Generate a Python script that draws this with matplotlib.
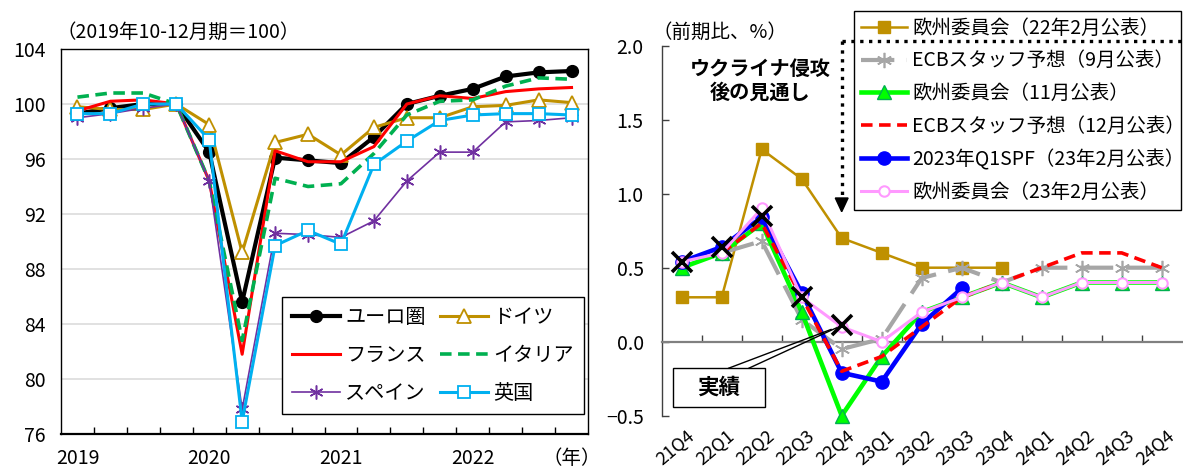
import numpy as np
import matplotlib
matplotlib.use("Agg")
import matplotlib.pyplot as plt
from matplotlib.lines import Line2D
from matplotlib.patches import Polygon, Rectangle
from matplotlib import transforms
from matplotlib.ticker import FuncFormatter

plt.rcParams["font.family"] = ["Noto Sans CJK JP", "DejaVu Sans"]

# ---------------- data: real GDP level (2019Q4 = 100) ----------------
year_labels = ["2019", "2020", "2021", "2022"]
year_positions = [0, 4, 8, 12]
n_quarters = 16

euro = [99.3, 99.7, 100.0, 100.0, 96.5, 85.6, 96.1, 95.9, 95.7, 97.6, 100.0, 100.6, 101.1, 102.0, 102.3, 102.4]
germany = [99.8, 99.6, 99.6, 100.0, 98.5, 89.2, 97.2, 97.8, 96.3, 98.3, 99.0, 99.0, 99.8, 99.9, 100.3, 100.1]
france = [99.5, 100.2, 100.3, 100.0, 94.4, 81.8, 96.6, 95.8, 95.8, 96.9, 100.0, 100.6, 100.4, 100.9, 101.1, 101.2]
italy = [100.5, 100.8, 100.8, 100.0, 94.4, 82.8, 94.6, 94.0, 94.2, 96.4, 99.2, 100.2, 100.3, 101.3, 101.9, 101.8]
spain = [99.0, 99.3, 99.7, 100.0, 94.4, 77.8, 90.6, 90.5, 90.3, 91.5, 94.4, 96.5, 96.5, 98.7, 98.8, 99.0]
uk = [99.3, 99.3, 100.0, 100.0, 97.4, 76.9, 89.7, 90.8, 89.8, 95.6, 97.3, 98.8, 99.2, 99.3, 99.3, 99.2]

# ---------------- data: euro area GDP growth forecasts (q/q, %) ----------------
forecast_quarters = ["21Q4", "22Q1", "22Q2", "22Q3", "22Q4", "23Q1", "23Q2",
                     "23Q3", "23Q4", "24Q1", "24Q2", "24Q3", "24Q4"]
ec_feb22 = [0.3, 0.3, 1.3, 1.1, 0.7, 0.6, 0.5, 0.5, 0.5, None, None, None, None]
ecb_sep22 = [None, 0.6, 0.68, 0.15, -0.05, 0.02, 0.43, 0.5, 0.4, 0.5, 0.5, 0.5, 0.5]
ec_nov22 = [0.5, 0.6, 0.8, 0.2, -0.5, -0.1, 0.2, 0.3, 0.4, 0.3, 0.4, 0.4, 0.4]
ecb_dec22 = [None, 0.6, 0.8, 0.3, -0.2, -0.1, 0.1, 0.3, 0.4, 0.5, 0.6, 0.6, 0.5]
spf_2023q1 = [0.54, 0.64, 0.84, 0.33, -0.21, -0.27, 0.12, 0.36, None, None, None, None, None]
ec_feb23 = [0.54, 0.6, 0.9, 0.3, 0.1, 0.0, 0.2, 0.3, 0.4, 0.3, 0.4, 0.4, 0.4]
actual = [0.54, 0.64, 0.85, 0.3, 0.11]

W, H = 1183, 473
fig = plt.figure(figsize=(W / 100, H / 100), dpi=100)


def fx(px):
    return px / W


def fy(py):
    return 1 - py / H


def arr(values):
    return np.array([np.nan if v is None else v for v in values], dtype=float)


# =============== left panel ===============
axL = fig.add_axes([fx(61), fy(434), fx(588) - fx(61), fy(49) - fy(434)])
x = np.arange(n_quarters)

GOLD = "#BF9000"
lineE, = axL.plot(x, euro, color="black", lw=3.0, marker="o", ms=8.5, zorder=3, label="ユーロ圏")
lineG, = axL.plot(x, germany, color=GOLD, lw=2.2, marker="^", ms=10, mfc="white", mec=GOLD,
                  mew=1.3, zorder=4, label="ドイツ")
lineF, = axL.plot(x, france, color="#FF0000", lw=2.2, zorder=5, label="フランス")
lineI, = axL.plot(x, italy, color="#00B050", lw=2.6, ls=(0, (3.2, 1.8)), zorder=5, label="イタリア")
lineS, = axL.plot(x, spain, color="#7030A0", lw=1.2, marker=(6, 2, 0), ms=10, mew=1.1,
                  zorder=6, label="スペイン")
lineU, = axL.plot(x, uk, color="#00B0F0", lw=2.2, marker="s", ms=8, mfc="white", mec="#00B0F0",
                  mew=1.3, zorder=7, label="英国", clip_on=False)

axL.set_xlim(-0.5, n_quarters - 0.5)
axL.set_ylim(76, 104)
axL.set_yticks(np.arange(76, 105, 4))
axL.tick_params(axis="y", length=0, pad=11, labelsize=14)
axL.yaxis.grid(True, color="#d9d9d9", lw=1.1)
axL.set_axisbelow(True)

axL.set_xticks(np.arange(0.5, n_quarters - 1, 1))
axL.set_xticklabels([])
axL.tick_params(axis="x", which="major", direction="in", length=5, width=1, color="black")
axL.set_xticks(year_positions + [n_quarters - 1], minor=True)
axL.set_xticklabels(year_labels + ["（年）"], minor=True)
axL.tick_params(axis="x", which="minor", length=0, pad=10, labelsize=14)
for side in ["left", "top", "right"]:
    axL.spines[side].set_linewidth(1.0)
axL.spines["bottom"].set_linewidth(1.6)

legL = axL.legend(handles=[lineE, lineF, lineS, lineG, lineI, lineU], ncol=2,
                  loc="upper left", mode="expand",
                  bbox_to_anchor=(fx(282), fy(411), fx(584) - fx(282), fy(297) - fy(411)),
                  bbox_transform=fig.transFigure, borderaxespad=0, fontsize=14.5,
                  handlelength=2.4, handletextpad=0.25, labelspacing=0.85,
                  columnspacing=0.9, borderpad=0.5, fancybox=False, framealpha=1,
                  edgecolor="black")
legL.get_frame().set_linewidth(1.0)
legL.set_zorder(10)

fig.text(fx(57), fy(32), "（2019年10-12月期＝100）", ha="left", va="center", fontsize=14)

# =============== right panel ===============
axR = fig.add_axes([fx(661.7), fy(415.7), fx(1181.7) - fx(661.7), fy(45.7) - fy(415.7)])
xr = np.arange(len(forecast_quarters))

l1, = axR.plot(xr, arr(ec_feb22), color=GOLD, lw=1.8, marker="s", ms=9, mfc=GOLD, mec=GOLD,
               zorder=2, label="欧州委員会（22年2月公表）")
l2, = axR.plot(xr, arr(ecb_sep22), color="#A6A6A6", lw=3.0, ls=(0, (8, 3)), marker=(6, 2, 0),
               ms=11, mew=1.2, zorder=3, label="ECBスタッフ予想（9月公表）")
l3, = axR.plot(xr, arr(ec_nov22), color="#00FF00", lw=3.3, marker="^", ms=10.5, mfc="#00FF00",
               mec="#00B050", mew=1.0, zorder=4, label="欧州委員会（11月公表）", clip_on=False)
l5, = axR.plot(xr, arr(spf_2023q1), color="#0000FF", lw=3.3, marker="o", ms=9.5,
               zorder=5, label="2023年Q1SPF（23年2月公表）")
l4, = axR.plot(xr, arr(ecb_dec22), color="#FF0000", lw=2.6, ls=(0, (3.2, 1.8)),
               zorder=6, label="ECBスタッフ予想（12月公表）")
l6, = axR.plot(xr, arr(ec_feb23), color="#FF99FF", lw=2.2, marker="o", ms=7.5, mfc="white",
               mec="#FF99FF", mew=1.5, zorder=7, label="欧州委員会（23年2月公表）")
axR.plot(np.arange(len(actual)), actual, ls="none", marker="x", ms=15, mew=2.6,
         color="black", zorder=8)

axR.set_xlim(-0.5, len(forecast_quarters) - 0.5)
axR.set_ylim(-0.5, 2.0)
axR.set_yticks(np.arange(-0.5, 2.01, 0.5))
axR.yaxis.set_major_formatter(FuncFormatter(lambda v, pos: f"{v:.1f}".replace("-", "\u2212")))
axR.tick_params(axis="y", direction="in", length=5, width=1, pad=13, labelsize=14,
                color="#404040")
axR.spines["left"].set_color("#404040")
axR.spines["left"].set_linewidth(1.0)
axR.spines["top"].set_visible(False)
axR.spines["right"].set_visible(False)
axR.spines["bottom"].set_position(("data", 0))
axR.spines["bottom"].set_color("#808080")
axR.spines["bottom"].set_linewidth(1.6)
axR.set_xticks(np.arange(0.5, len(forecast_quarters) - 1, 1))
axR.set_xticklabels([])
axR.tick_params(axis="x", direction="in", length=5, width=1, color="#404040")

lab_tr = transforms.blended_transform_factory(axR.transData, axR.transAxes)
for i, q in enumerate(forecast_quarters):
    axR.text(i + 0.12, -0.03, q, transform=lab_tr, rotation=40, rotation_mode="anchor",
             ha="right", va="top", fontsize=13, clip_on=False)

legR = axR.legend(handles=[l1, l2, l3, l4, l5, l6], loc="upper left", mode="expand",
                  bbox_to_anchor=(fx(854), fy(208), fx(1181) - fx(854), fy(10.7) - fy(208)),
                  bbox_transform=fig.transFigure, borderaxespad=0, fontsize=14,
                  handlelength=2.4, handletextpad=0.25, labelspacing=0.61, borderpad=0.35,
                  fancybox=False, framealpha=1, edgecolor="black")
legR.get_frame().set_linewidth(1.0)
legR.set_zorder(10)

fig.text(fx(652), fy(32), "（前期比、%）", ha="left", va="center", fontsize=14)

# annotation: outlook after the invasion
axR.text(0.19, (415.7 - 68) / 370, "ウクライナ侵攻", transform=axR.transAxes,
         ha="center", va="center", fontsize=14.5, fontweight="bold", zorder=9)
axR.text(0.19, (415.7 - 92) / 370, "後の見通し", transform=axR.transAxes,
         ha="center", va="center", fontsize=14.5, fontweight="bold", zorder=9)

# dotted divider and arrow pointing down at 22Q4
arrow_q = 4
div_tr = transforms.blended_transform_factory(axR.transData, fig.transFigure)
axR.add_line(Line2D([arrow_q, len(forecast_quarters) - 0.45], [fy(40.7), fy(40.7)],
                    transform=div_tr, color="black", lw=2.4, ls=":", clip_on=False, zorder=12))
axR.add_line(Line2D([arrow_q, arrow_q], [fy(40.7), fy(199)], transform=div_tr,
                    color="black", lw=2.4, ls=":", clip_on=False, zorder=12))
axR.add_patch(Polygon([(arrow_q - 0.16, fy(198)), (arrow_q + 0.16, fy(198)), (arrow_q, fy(211.7))],
                      closed=True, transform=div_tr, facecolor="black", edgecolor="black",
                      clip_on=False, zorder=12))

# callout for actual values
axR.add_patch(Rectangle((0.0208, 0.0243), 0.1786, 0.1037, transform=axR.transAxes,
                        facecolor="white", edgecolor="black", lw=1.0, zorder=9, clip_on=False))
axR.text(0.110, 0.076, "実績", transform=axR.transAxes, ha="center", va="center",
         fontsize=15.5, fontweight="bold", zorder=10)
for x0, shrink in [(0.128, 8), (0.167, 4)]:
    axR.annotate("", xy=(len(actual) - 1, actual[-1]), xycoords="data",
                 xytext=(x0, 0.128), textcoords="axes fraction",
                 arrowprops=dict(arrowstyle="-", color="black", lw=1.0,
                                 shrinkA=0, shrinkB=shrink), zorder=9)

fig.savefig("out.png", dpi=100)
